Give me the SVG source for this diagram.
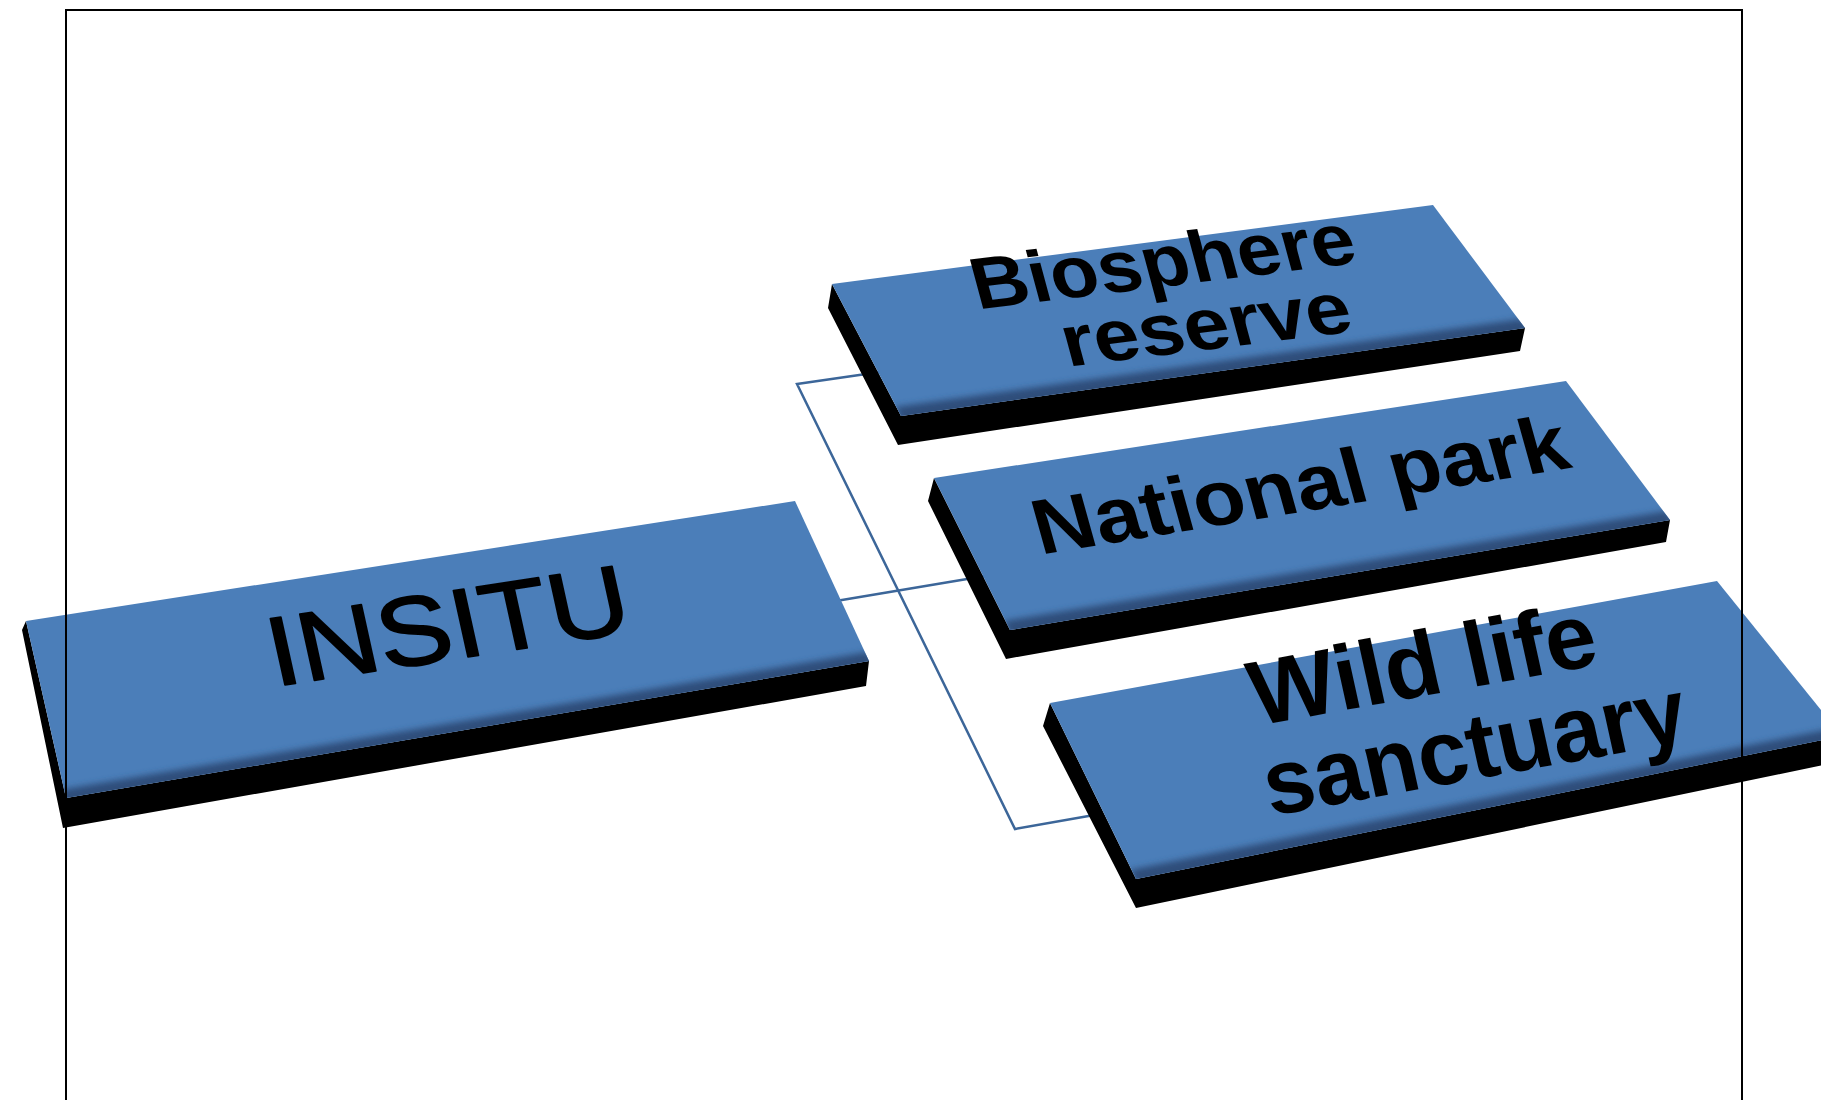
<svg xmlns="http://www.w3.org/2000/svg" width="1821" height="1100" viewBox="0 0 1821 1100">
<defs>
<style>
.side{fill:#000}
.face{fill:#4B7EB9}
.bevel{fill:#2E4E7A;filter:url(#blur)}
.conn{fill:none;stroke:#3C6699;stroke-width:2.5}
.lbl{font-family:"Liberation Sans",Arial,sans-serif;fill:#000;text-anchor:middle}
.thick{stroke:#000;stroke-width:2;stroke-linejoin:round}
.frame{fill:none;stroke:#000;stroke-width:2}
</style>
<filter id="blur" x="-5%" y="-50%" width="110%" height="200%"><feGaussianBlur stdDeviation="3"/></filter>
<clipPath id="c-insitu"><polygon points="26,621 795,501 869,661 66,798"/></clipPath>
<clipPath id="c-bio"><polygon points="832,284 1433,205 1525,328 901,416"/></clipPath>
<clipPath id="c-nat"><polygon points="934,478 1566,381 1670,520 1010,630"/></clipPath>
<clipPath id="c-wild"><polygon points="1050,703 1717,581 1842,736 1136,879"/></clipPath>
</defs>
<rect width="1821" height="1100" fill="#fff"/>

<g id="connectors">
<polyline class="conn" points="880,372 797,384 1015,829 1100,814"/>
<line class="conn" x1="830" y1="602" x2="985" y2="576"/>
</g>

<g id="node-insitu">
<polygon class="side" points="22,630 26,621 66,798 869,661 866,686 63,828"/>
<polygon class="face" points="26,621 795,501 869,661 66,798"/>
<g clip-path="url(#c-insitu)"><polygon class="bevel" points="60,790 868,652 880,672 66,812"/></g>
<text class="lbl thick" transform="matrix(0.9885 -0.1513 0.19 0.86 455 659)" font-size="112" textLength="364" lengthAdjust="spacingAndGlyphs">INSITU</text>
</g>

<g id="node-biosphere">
<polygon class="side" points="828,308 832,284 901,416 1525,328 1520,351 898,445"/>
<polygon class="face" points="832,284 1433,205 1525,328 901,416"/>
<g clip-path="url(#c-bio)"><polygon class="bevel" points="895,407 1522,319 1535,338 905,428"/></g>
<text class="lbl" font-weight="bold" transform="matrix(0.9925 -0.1219 0.25 0.93 1169 286)" font-size="77" textLength="385" lengthAdjust="spacingAndGlyphs">Biosphere</text>
<text class="lbl" font-weight="bold" transform="matrix(0.9925 -0.1219 0.25 0.93 1212 349)" font-size="77" textLength="290" lengthAdjust="spacingAndGlyphs">reserve</text>
</g>

<g id="node-national">
<polygon class="side" points="928,501 934,478 1010,630 1670,520 1666,542 1006,659"/>
<polygon class="face" points="934,478 1566,381 1670,520 1010,630"/>
<g clip-path="url(#c-nat)"><polygon class="bevel" points="1004,621 1667,511 1680,531 1014,642"/></g>
<text class="lbl" font-weight="bold" transform="matrix(0.9869 -0.1616 0.25 0.9 1307 511)" font-size="84.5" textLength="540" lengthAdjust="spacingAndGlyphs">National park</text>
</g>

<g id="node-wildlife">
<polygon class="side" points="1043,726 1050,703 1136,879 1842,736 1838,762 1136,908"/>
<polygon class="face" points="1050,703 1717,581 1842,736 1136,879"/>
<g clip-path="url(#c-wild)"><polygon class="bevel" points="1130,870 1840,727 1852,747 1140,891"/></g>
<text class="lbl" font-weight="bold" transform="matrix(0.9842 -0.1771 0.22 1.0 1429 695)" font-size="90" textLength="350" lengthAdjust="spacingAndGlyphs">Wild life</text>
<text class="lbl" font-weight="bold" transform="matrix(0.9842 -0.1771 0.22 1.0 1481 778)" font-size="90" textLength="428" lengthAdjust="spacingAndGlyphs">sanctuary</text>
</g>

<path class="frame" d="M66,1100 V10 H1742 V1100"/>
</svg>
